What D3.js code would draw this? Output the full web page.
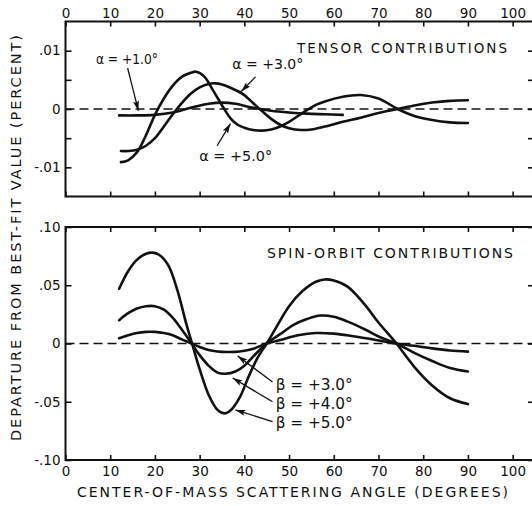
<!DOCTYPE html>
<html>
<head>
<meta charset="utf-8">
<script src="https://cdn.jsdelivr.net/npm/d3@7"></script>
<style>
  html, body { margin: 0; padding: 0; background: #fff; }
  svg { display: block; }
  text { font-family: "DejaVu Sans", sans-serif; fill: #111; }
  .tick text { font-size: 13.5px; }
</style>
</head>
<body>
<div id="chart"></div>
<script>
// ---------- DATA ----------
const xTickValues = [0, 10, 20, 30, 40, 50, 60, 70, 80, 90, 100];
const xTickLabels = ["0", "10", "20", "30", "40", "50", "60", "70", "80", "90", "100"];

const tensorTicks = [0.01, 0.005, 0, -0.005, -0.01];
const tensorTickLabels = [".01", "", "0", "", "-.01"];
const spinTicks = [0.10, 0.05, 0, -0.05, -0.10];
const spinTickLabels = [".10", ".05", "0", "-.05", "-.10"];

// Tensor contributions (top panel)
const alpha1X = [12, 16, 20, 24, 28, 32, 35, 38, 42, 46, 50, 54, 58, 62];
const alpha1Y = [-0.0011, -0.0011, -0.0010, -0.0006, 0.0002, 0.0009, 0.0011, 0.0009, 0.0002, -0.0003, -0.0006, -0.0008, -0.0009, -0.0010];

const alpha3X = [12.4, 14, 16, 18, 20, 22, 24, 26, 28, 30, 32, 33.5, 35, 37, 39.6, 42, 44, 46, 48, 50, 52.7, 55, 58, 62, 66, 70, 74.3, 78, 82, 86, 90];
const alpha3Y = [-0.0072, -0.0072, -0.0070, -0.0063, -0.0050, -0.0030, -0.0009, 0.0010, 0.0026, 0.0037, 0.0043, 0.0044, 0.0042, 0.0036, 0.0026, 0.0010, -0.0004, -0.0017, -0.0027, -0.0033, -0.0036, -0.0035, -0.0030, -0.0022, -0.0015, -0.0007, 0.0000, 0.0006, 0.0011, 0.0014, 0.0015];

const alpha5X = [12.4, 14, 16, 18, 20, 22, 24, 26, 28, 29.2, 31, 33, 35.5, 37, 38.5, 40, 42, 44, 46, 48, 50, 52, 54, 56, 58, 62, 66, 70, 74.3, 78, 82, 86, 90];
const alpha5Y = [-0.0091, -0.0088, -0.0074, -0.0045, -0.0010, 0.0018, 0.0040, 0.0055, 0.0062, 0.0064, 0.0056, 0.0032, 0.0000, -0.0017, -0.0027, -0.0032, -0.0036, -0.0037, -0.0035, -0.0030, -0.0022, -0.0012, -0.0002, 0.0007, 0.0013, 0.0021, 0.0024, 0.0018, 0.0000, -0.0012, -0.0019, -0.0023, -0.0024];

// Spin-orbit contributions (bottom panel)
const beta3X = [12, 14, 16, 18, 20, 22, 24, 26, 28.2, 30, 32, 34, 36, 38, 40, 42, 45, 48, 52, 56, 60, 64, 68, 72, 74, 78, 82, 86, 90];
const beta3Y = [0.0045, 0.007, 0.009, 0.010, 0.010, 0.009, 0.007, 0.0035, 0, -0.003, -0.0055, -0.0068, -0.0073, -0.0072, -0.0062, -0.0045, 0, 0.003, 0.007, 0.009, 0.0085, 0.0065, 0.004, 0.0012, 0, -0.002, -0.0042, -0.006, -0.007];

const beta4X = [12, 14, 16, 18, 20, 22, 24, 26, 28.2, 30, 32, 34, 35.8, 38, 40, 42, 45, 48, 51, 54, 57, 60, 63, 67, 70, 74, 78, 82, 86, 90];
const beta4Y = [0.020, 0.026, 0.030, 0.032, 0.032, 0.029, 0.022, 0.012, 0, -0.010, -0.019, -0.025, -0.026, -0.024, -0.019, -0.011, 0, 0.008, 0.016, 0.021, 0.024, 0.023, 0.019, 0.012, 0.006, 0, -0.008, -0.015, -0.021, -0.024];

const beta5X = [12, 14, 16, 18, 19.5, 21, 23, 25, 27, 28.3, 30, 32, 34, 35.5, 37, 39, 41, 43, 45, 47, 50, 53, 56, 58, 60, 63, 66.8, 70, 74, 78, 82, 86, 90];
const beta5Y = [0.047, 0.062, 0.072, 0.077, 0.078, 0.076, 0.067, 0.046, 0.017, 0, -0.022, -0.044, -0.057, -0.060, -0.057, -0.046, -0.028, -0.012, 0, 0.013, 0.032, 0.045, 0.053, 0.055, 0.054, 0.049, 0.034, 0.018, 0, -0.020, -0.036, -0.047, -0.052];

// Annotations (data coordinates)
const tensorLabels = [
  { text: "α = +1.0°", x: 6.8, y: 0.0086, len: 62, ax1: 13.9, ay1: 0.0070, ax2: 16.3, ay2: -0.0003 },
  { text: "α = +3.0°", x: 37.3, y: 0.0077, len: 71, ax1: 42.5, ay1: 0.0055, ax2: 39.3, ay2: 0.0030 },
  { text: "α = +5.0°", x: 29.9, y: -0.0081, len: 73, ax1: 33.9, ay1: -0.0063, ax2: 36.9, ay2: -0.0025 }
];
const spinLabels = [
  { text: "β = +3.0°", x: 47.0, y: -0.0355, len: 77, ax1: 46.3, ay1: -0.033, ax2: 38.5, ay2: -0.0107 },
  { text: "β = +4.0°", x: 47.0, y: -0.0520, len: 77, ax1: 46.3, ay1: -0.050, ax2: 37.4, ay2: -0.0296 },
  { text: "β = +5.0°", x: 47.0, y: -0.0680, len: 77, ax1: 46.3, ay1: -0.067, ax2: 38.0, ay2: -0.057 }
];

// ---------- DRAW ----------
const W = 532, H = 506;
const svg = d3.select("#chart").append("svg").attr("width", W).attr("height", H);

const defs = svg.append("defs");
defs.append("marker")
  .attr("id", "arrow").attr("viewBox", "0 0 10 6").attr("refX", 10).attr("refY", 3)
  .attr("markerWidth", 10).attr("markerHeight", 6).attr("markerUnits", "userSpaceOnUse")
  .attr("orient", "auto")
  .append("path").attr("d", "M0,0 L10,3 L0,6 L2,3 Z").attr("fill", "#111");

const x = d3.scaleLinear().domain([0, 105]).range([65.5, 535]);
const yT = d3.scaleLinear().domain([-0.015, 0.015]).range([196.5, 21.5]);
const yS = d3.scaleLinear().domain([-0.1, 0.1]).range([460, 227]);

function panel(yScale, yTicks, yLabels, topLabels, bottomLabels) {
  const g = svg.append("g");
  const [y0, y1] = yScale.range();
  const top = Math.min(y0, y1), bot = Math.max(y0, y1);

  g.append("line")
    .attr("x1", x(0)).attr("x2", W).attr("y1", yScale(0)).attr("y2", yScale(0))
    .attr("stroke", "#111").attr("stroke-width", 1.3).attr("stroke-dasharray", "9,5");

  const at = g.append("g").attr("transform", `translate(0,${top})`)
    .call(d3.axisTop(x).tickValues(xTickValues).tickSize(-5).tickSizeOuter(0).tickPadding(4)
      .tickFormat((d, i) => topLabels ? xTickLabels[i] : ""));
  const ab = g.append("g").attr("transform", `translate(0,${bot})`)
    .call(d3.axisBottom(x).tickValues(xTickValues).tickSize(-5).tickSizeOuter(0).tickPadding(6)
      .tickFormat((d, i) => bottomLabels ? xTickLabels[i] : ""));
  const al = g.append("g").attr("transform", `translate(${x(0)},0)`)
    .call(d3.axisLeft(yScale).tickValues(yTicks).tickSize(-6).tickSizeOuter(0).tickPadding(5)
      .tickFormat((d, i) => yLabels[i]));
  const ar = g.append("g").attr("transform", `translate(${x(105)},0)`)
    .call(d3.axisRight(yScale).tickValues(yTicks).tickSize(-7).tickSizeOuter(0).tickFormat(""));

  [at, ab, al, ar].forEach(a => {
    a.select(".domain").remove();
    a.attr("font-size", null).attr("font-family", null);
    a.selectAll(".tick line").attr("stroke", "#111").attr("stroke-width", 1.6);
    a.selectAll(".tick text").attr("fill", "#111");
  });

  g.append("rect").attr("x", x(0)).attr("y", top).attr("width", x(105) - x(0)).attr("height", bot - top)
    .attr("fill", "none").attr("stroke", "#111").attr("stroke-width", 2);
  return g;
}

const gT = panel(yT, tensorTicks, tensorTickLabels, true, false);
const gS = panel(yS, spinTicks, spinTickLabels, false, true);

function curve(g, yScale, xs, ys) {
  const pts = xs.map((d, i) => [d, ys[i]]);
  g.append("path").datum(pts)
    .attr("d", d3.line().x(d => x(d[0])).y(d => yScale(d[1])).curve(d3.curveCatmullRom.alpha(0.5)))
    .attr("fill", "none").attr("stroke", "#111").attr("stroke-width", 2.6)
    .attr("stroke-linejoin", "round").attr("stroke-linecap", "round");
}

curve(gT, yT, alpha1X, alpha1Y);
curve(gT, yT, alpha3X, alpha3Y);
curve(gT, yT, alpha5X, alpha5Y);
curve(gS, yS, beta3X, beta3Y);
curve(gS, yS, beta4X, beta4Y);
curve(gS, yS, beta5X, beta5Y);

function annotate(g, yScale, list, fs) {
  list.forEach(a => {
    g.append("text").attr("x", x(a.x)).attr("y", yScale(a.y))
      .attr("dominant-baseline", "central").attr("font-size", fs)
      .attr("textLength", a.len).attr("lengthAdjust", "spacingAndGlyphs")
      .text(a.text);
    g.append("line")
      .attr("x1", x(a.ax1)).attr("y1", yScale(a.ay1))
      .attr("x2", x(a.ax2)).attr("y2", yScale(a.ay2))
      .attr("stroke", "#111").attr("stroke-width", 1.3)
      .attr("marker-end", "url(#arrow)");
  });
}
annotate(gT, yT, tensorLabels, 13.5);
annotate(gS, yS, spinLabels, 15);

svg.append("text").attr("x", 297).attr("y", 48).attr("dominant-baseline", "central")
  .attr("font-size", 13.5).attr("textLength", 210).attr("lengthAdjust", "spacing")
  .text("TENSOR CONTRIBUTIONS");
svg.append("text").attr("x", 267).attr("y", 253).attr("dominant-baseline", "central")
  .attr("font-size", 14).attr("textLength", 246).attr("lengthAdjust", "spacing")
  .text("SPIN-ORBIT CONTRIBUTIONS");

svg.append("text").attr("x", 292.5).attr("y", 492).attr("text-anchor", "middle")
  .attr("dominant-baseline", "central").attr("font-size", 14)
  .attr("textLength", 431).attr("lengthAdjust", "spacing")
  .text("CENTER-OF-MASS SCATTERING ANGLE (DEGREES)");
svg.append("text").attr("transform", "translate(16,238) rotate(-90)")
  .attr("text-anchor", "middle").attr("dominant-baseline", "central").attr("font-size", 14.5)
  .attr("textLength", 406).attr("lengthAdjust", "spacing")
  .text("DEPARTURE FROM BEST-FIT VALUE (PERCENT)");
</script>
</body>
</html>
